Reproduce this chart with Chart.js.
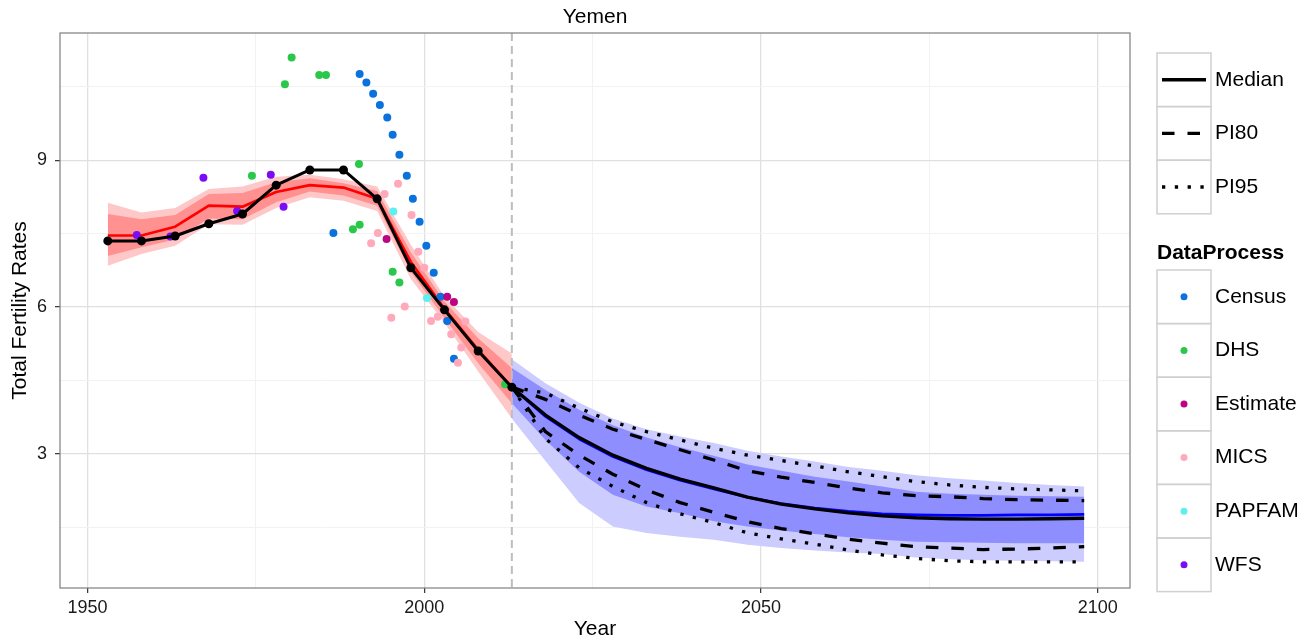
<!DOCTYPE html>
<html lang="en">
<head>
<meta charset="UTF-8">
<title>Yemen - Total Fertility Rates</title>
<script src="https://cdn.jsdelivr.net/npm/chart.js"></script>
<style>
  body { margin: 0; background: #ffffff; }
  #wrap { width: 1315px; height: 644px; }
</style>
</head>
<body>
<div id="wrap"><canvas id="tfrChart" width="1315" height="644"></canvas></div>
<script>
// ---- data ----
const countryName = 'Yemen';
const projStart = 2013;

// estimation period (five-year periods)
const histYears   = [1953, 1958, 1963, 1968, 1973, 1978, 1983, 1988, 1993, 1998, 2003, 2008, 2013];
const histMedian  = [7.35, 7.35, 7.45, 7.70, 7.90, 8.49, 8.80, 8.80, 8.21, 6.80, 5.94, 5.10, 4.36];
const estMedian   = [7.46, 7.46, 7.64, 8.07, 8.05, 8.35, 8.49, 8.44, 8.21, 6.92, 5.96, 5.12, 4.36];
const estPI80Low  = [7.04, 7.22, 7.38, 7.81, 7.79, 8.14, 8.36, 8.28, 8.07, 6.72, 5.77, 4.85, 4.03];
const estPI80High = [7.90, 7.79, 7.88, 8.31, 8.33, 8.55, 8.63, 8.53, 8.37, 7.12, 6.11, 5.36, 4.75];
const estPI95Low  = [6.84, 7.08, 7.25, 7.69, 7.68, 8.02, 8.24, 8.17, 7.96, 6.57, 5.67, 4.68, 3.72];
const estPI95High = [8.13, 7.93, 8.02, 8.41, 8.46, 8.66, 8.70, 8.61, 8.46, 7.27, 6.21, 5.49, 5.05];

// projection period
const projYears     = [2013, 2018, 2023, 2028, 2033, 2038, 2043, 2048, 2053, 2058, 2063, 2068, 2073, 2078, 2083, 2088, 2093, 2098];
const projMedian    = [4.36, 3.79, 3.33, 2.97, 2.70, 2.48, 2.30, 2.11, 1.97, 1.87, 1.79, 1.73, 1.69, 1.67, 1.66, 1.66, 1.67, 1.68];
const projMedianAlt = [4.36, 3.76, 3.30, 2.94, 2.67, 2.46, 2.28, 2.11, 1.98, 1.89, 1.82, 1.77, 1.75, 1.74, 1.74, 1.75, 1.75, 1.76];
const projPI80Low   = [4.36, 3.45, 2.97, 2.58, 2.26, 2.00, 1.80, 1.61, 1.47, 1.36, 1.25, 1.17, 1.10, 1.07, 1.04, 1.05, 1.07, 1.10];
const projPI80High  = [4.36, 4.11, 3.79, 3.50, 3.29, 3.08, 2.87, 2.65, 2.52, 2.41, 2.30, 2.20, 2.14, 2.12, 2.08, 2.06, 2.05, 2.04];
const projPI95Low   = [4.36, 3.31, 2.71, 2.33, 2.00, 1.77, 1.59, 1.38, 1.26, 1.15, 1.03, 0.93, 0.86, 0.81, 0.79, 0.79, 0.79, 0.79];
const projPI95High  = [4.36, 4.24, 3.93, 3.65, 3.45, 3.28, 3.11, 2.97, 2.86, 2.75, 2.63, 2.53, 2.43, 2.36, 2.31, 2.28, 2.26, 2.24];
const bandPI80Low   = [4.03, 3.28, 2.63, 2.16, 1.92, 1.78, 1.62, 1.51, 1.43, 1.36, 1.29, 1.24, 1.20, 1.19, 1.18, 1.17, 1.17, 1.17];
const bandPI80High  = [4.75, 4.30, 3.90, 3.58, 3.33, 3.13, 2.96, 2.78, 2.65, 2.53, 2.43, 2.33, 2.22, 2.18, 2.16, 2.14, 2.13, 2.12];
const bandPI95Low   = [3.72, 2.85, 1.99, 1.51, 1.38, 1.30, 1.24, 1.14, 1.07, 1.02, 0.98, 0.95, 0.88, 0.84, 0.82, 0.81, 0.80, 0.79];
const bandPI95High  = [4.93, 4.44, 4.04, 3.72, 3.50, 3.35, 3.22, 3.06, 2.94, 2.84, 2.73, 2.65, 2.56, 2.50, 2.45, 2.40, 2.36, 2.33];

// observed TFR by data source: [year, tfr]
const census = [[1986.5, 7.51], [1990.4, 10.76], [1991.4, 10.59], [1992.4, 10.36], [1993.4, 10.13], [1994.5, 9.87],
  [1995.3, 9.52], [1996.3, 9.11], [1997.4, 8.68], [1998.3, 8.21], [1999.3, 7.74], [2000.3, 7.25], [2001.4, 6.70],
  [2002.4, 6.21], [2003.4, 5.71], [2004.4, 4.94]];
const dhs = [[1974.4, 8.68], [1979.3, 10.55], [1980.3, 11.10], [1984.4, 10.74], [1985.4, 10.74], [1989.4, 7.59],
  [1990.3, 8.92], [1990.4, 7.68], [1995.3, 6.72], [1996.3, 6.50], [2012.0, 4.42]];
const estimate = [[1994.4, 7.39], [2003.4, 6.21], [2004.4, 6.10]];
const mics = [[1992.1, 7.30], [1993.1, 7.51], [1994.1, 8.31], [1995.1, 5.78], [1996.1, 8.52], [1997.1, 6.01],
  [1998.1, 7.88], [1999.1, 7.13], [2000.0, 6.80], [2001.0, 5.71], [2002.0, 5.80], [2004.0, 5.44], [2005.0, 4.86],
  [2005.5, 5.17], [2006.1, 5.70]];
const papfam = [[1995.4, 7.95], [2000.4, 6.18]];
const wfs = [[1957.3, 7.47], [1962.3, 7.44], [1967.2, 8.64], [1972.2, 7.96], [1977.2, 8.70], [1979.1, 8.05]];

// axes
const xMin = 1945.9, xMax = 2104.8;
const yMin = 0.254, yMax = 11.6;
const xTicks = [1950, 1975, 2000, 2025, 2050, 2075, 2100];
const xLabelled = [1950, 2000, 2050, 2100];
const yTicks = [1.5, 3, 4.5, 6, 7.5, 9, 10.5];
const yLabelled = [3, 6, 9];

// legends
const lineTypes = ['Median', 'PI80', 'PI95'];
const lineDashes = [[], [12.5, 13], [3.3, 9.5]];
const sources = ['Census', 'DHS', 'Estimate', 'MICS', 'PAPFAM', 'WFS'];
const sourceColors = ['#0a72dc', '#2ac84a', '#bd0583', '#ffa9ba', '#5eeff1', '#7b0cf6'];

// ---- helpers ----
const FONT = '"Liberation Sans", Arial, Helvetica, sans-serif';
const pts = (xs, ys) => xs.map((x, i) => ({ x: x, y: ys[i] }));
const pairPts = arr => arr.map(p => ({ x: p[0], y: p[1] }));

function band(name, xs, hi, lo, color, order) {
  return [
    { label: name + 'High', data: pts(xs, hi), borderWidth: 0, borderColor: 'transparent',
      pointRadius: 0, fill: '+1', backgroundColor: color, order: order },
    { label: name + 'Low', data: pts(xs, lo), borderWidth: 0, borderColor: 'transparent',
      pointRadius: 0, fill: false, order: order - 1 }
  ];
}

function line(name, xs, ys, color, width, dash, order) {
  return { label: name, data: pts(xs, ys), borderColor: color, borderWidth: width, borderDash: dash,
    borderCapStyle: 'butt', borderJoinStyle: 'round', pointRadius: 0, fill: false, order: order };
}

function dots(name, arr, color, order) {
  return { label: name, data: pairPts(arr), showLine: false, pointRadius: 4, pointBorderWidth: 0,
    pointBackgroundColor: color, borderColor: color, backgroundColor: color, order: order };
}

const srcData = [census, dhs, estimate, mics, papfam, wfs];

const datasets = [].concat(
  band('est95', histYears, estPI95High, estPI95Low, '#ffc8c8', 30),
  band('est80', histYears, estPI80High, estPI80Low, '#ff9191', 28),
  band('proj95', projYears, bandPI95High, bandPI95Low, '#ccccff', 26),
  band('proj80', projYears, bandPI80High, bandPI80Low, '#8e8eff', 24),
  [
    line('estMedian', histYears, estMedian, '#ff0000', 2.7, [], 20),
    line('projMedianAlt', projYears, projMedianAlt, '#0000ff', 2.7, [], 19)
  ],
  srcData.map((d, i) => dots(sources[i], d, sourceColors[i], 18 - i)),
  [
    Object.assign(line('median', histYears, histMedian, '#000000', 3, [], 5),
      { pointRadius: 4.5, pointBorderWidth: 0, pointBackgroundColor: '#000000' }),
    line('projMedian', projYears, projMedian, '#000000', 3.3, [], 5),
    line('PI80 low', projYears, projPI80Low, '#000000', 3.3, lineDashes[1], 4),
    line('PI80 high', projYears, projPI80High, '#000000', 3.3, lineDashes[1], 4),
    line('PI95 low', projYears, projPI95Low, '#000000', 3.3, lineDashes[2], 3),
    line('PI95 high', projYears, projPI95High, '#000000', 3.3, lineDashes[2], 3)
  ]
);
// the projection-start marker goes right after the last shaded band
datasets.find(d => d.label === 'proj80Low').markerAfter = true;

// ---- decorations: start line, panel border, title, legends ----
const panelDecor = {
  id: 'panelDecor',
  afterDatasetDraw(chart, args) {
    if (!chart.data.datasets[args.index].markerAfter) return;
    const ctx = chart.ctx, area = chart.chartArea;
    const x = chart.scales.x.getPixelForValue(projStart);
    ctx.save();
    ctx.strokeStyle = '#bdbdbd';
    ctx.lineWidth = 2;
    ctx.setLineDash([8, 5]);
    ctx.beginPath();
    ctx.moveTo(x, area.top);
    ctx.lineTo(x, area.bottom);
    ctx.stroke();
    ctx.restore();
  },
  afterDraw(chart) {
    const ctx = chart.ctx, area = chart.chartArea;
    ctx.save();
    ctx.strokeStyle = '#7f7f7f';
    ctx.lineWidth = 1.2;
    ctx.strokeRect(area.left, area.top, area.right - area.left, area.bottom - area.top);

    ctx.fillStyle = '#000000';
    ctx.font = '21px ' + FONT;
    ctx.textAlign = 'center';
    ctx.textBaseline = 'middle';
    ctx.fillText(countryName, (area.left + area.right) / 2, 17);

    const keyX = 1157, keyW = 54, rowH = 53.6;
    ctx.textAlign = 'left';

    // line type legend
    let top = 53;
    lineTypes.forEach((name, i) => {
      const y = top + rowH * i;
      ctx.strokeStyle = '#d0d0d0';
      ctx.lineWidth = 1.5;
      ctx.setLineDash([]);
      ctx.strokeRect(keyX, y, keyW, rowH);
      ctx.strokeStyle = '#000000';
      ctx.lineWidth = 3.4;
      ctx.lineCap = 'butt';
      ctx.setLineDash(lineDashes[i]);
      ctx.beginPath();
      ctx.moveTo(keyX + 5, y + rowH / 2);
      ctx.lineTo(keyX + keyW - 5, y + rowH / 2);
      ctx.stroke();
      ctx.setLineDash([]);
      ctx.fillStyle = '#000000';
      ctx.font = '21px ' + FONT;
      ctx.fillText(name, keyX + keyW + 4, y + rowH / 2);
    });

    // data source legend
    ctx.font = 'bold 21px ' + FONT;
    ctx.fillStyle = '#000000';
    ctx.fillText('DataProcess', keyX, 253);
    top = 270;
    sources.forEach((name, i) => {
      const y = top + rowH * i;
      ctx.strokeStyle = '#d0d0d0';
      ctx.lineWidth = 1.5;
      ctx.strokeRect(keyX, y, keyW, rowH);
      ctx.fillStyle = sourceColors[i];
      ctx.beginPath();
      ctx.arc(keyX + keyW / 2, y + rowH / 2, 3.5, 0, Math.PI * 2);
      ctx.fill();
      ctx.fillStyle = '#000000';
      ctx.font = '21px ' + FONT;
      ctx.fillText(name, keyX + keyW + 4, y + rowH / 2);
    });
    ctx.restore();
  }
};

const isMajorX = v => xLabelled.includes(v);
const isMajorY = v => yLabelled.includes(v);

new Chart(document.getElementById('tfrChart'), {
  type: 'line',
  data: { datasets: datasets },
  options: {
    responsive: false,
    animation: false,
    devicePixelRatio: 1,
    layout: { padding: { left: 0, right: 185, top: 33, bottom: 0 } },
    plugins: { legend: { display: false }, tooltip: { enabled: false }, title: { display: false } },
    elements: { line: { tension: 0 } },
    scales: {
      x: {
        type: 'linear',
        min: xMin,
        max: xMax,
        afterBuildTicks: s => { s.ticks = xTicks.map(v => ({ value: v })); },
        afterFit: s => { s.height = 56; },
        border: { display: false },
        grid: {
          color: c => isMajorX(c.tick.value) ? '#e0e0e0' : '#f2f2f2',
          lineWidth: c => isMajorX(c.tick.value) ? 1.3 : 1,
          tickLength: 5,
          tickColor: c => isMajorX(c.tick.value) ? '#333333' : 'rgba(0,0,0,0)',
          tickWidth: 1.2
        },
        ticks: {
          autoSkip: false,
          maxRotation: 0,
          padding: 4,
          color: '#1a1a1a',
          font: { family: FONT, size: 18 },
          callback: v => isMajorX(v) ? String(v) : ''
        },
        title: {
          display: true,
          text: 'Year',
          color: '#000000',
          font: { family: FONT, size: 21, lineHeight: 1.2 },
          padding: { top: 0, bottom: 2 }
        }
      },
      y: {
        type: 'linear',
        min: yMin,
        max: yMax,
        afterBuildTicks: s => { s.ticks = yTicks.map(v => ({ value: v })); },
        afterFit: s => { s.width = 60; },
        border: { display: false },
        grid: {
          color: c => isMajorY(c.tick.value) ? '#e0e0e0' : '#f2f2f2',
          lineWidth: c => isMajorY(c.tick.value) ? 1.3 : 1,
          tickLength: 5,
          tickColor: c => isMajorY(c.tick.value) ? '#333333' : 'rgba(0,0,0,0)',
          tickWidth: 1.2
        },
        ticks: {
          autoSkip: false,
          padding: 8,
          color: '#1a1a1a',
          font: { family: FONT, size: 18 },
          callback: v => isMajorY(v) ? String(v) : ''
        },
        title: {
          display: true,
          text: 'Total Fertility Rates',
          color: '#000000',
          font: { family: FONT, size: 21, lineHeight: 1.2 },
          padding: { top: 8, bottom: 0 }
        }
      }
    }
  },
  plugins: [panelDecor]
});
</script>
</body>
</html>
